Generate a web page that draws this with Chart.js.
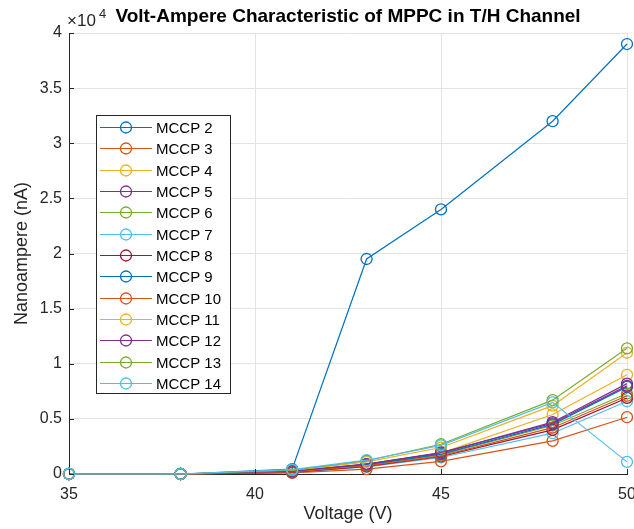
<!DOCTYPE html>
<html lang="en">
<head>
    <meta charset="UTF-8">
    <script src="https://cdn.jsdelivr.net/npm/chart.js"></script>
    <title>Volt-Ampere Characteristic of MPPC</title>
    <style>
        body {
            margin: 0;
            padding: 0;
            background-color: #fff;
        }
        #chart {
            display: block;
        }
    </style>
</head>
<body>
    <canvas id="chart" width="634" height="529"></canvas>

    <script>
        // Voltage points (V)
        const voltages = [35, 38, 41, 43, 45, 48, 50];

        const seriesNames = ['MCCP 2', 'MCCP 3', 'MCCP 4', 'MCCP 5', 'MCCP 6', 'MCCP 7', 'MCCP 8',
            'MCCP 9', 'MCCP 10', 'MCCP 11', 'MCCP 12', 'MCCP 13', 'MCCP 14'];

        // current in nA
        const mccp2 = [0, 0, 450, 19500, 24000, 32000, 39000];
        const mccp3 = [0, 0, 100, 450, 1150, 3000, 5150];
        const mccp4 = [0, 0, 200, 850, 1900, 5400, 9000];
        const mccp5 = [0, 0, 250, 900, 1900, 4700, 8200];
        const mccp6 = [0, 0, 200, 800, 1750, 4400, 7300];
        const mccp7 = [0, 0, 150, 650, 1500, 3700, 6600];
        const mccp8 = [0, 0, 150, 700, 1600, 4000, 6900];
        const mccp9 = [0, 0, 250, 850, 1800, 4500, 7900];
        const mccp10 = [0, 0, 200, 750, 1650, 4200, 7100];
        const mccp11 = [0, 0, 300, 1100, 2400, 6200, 11000];
        const mccp12 = [0, 0, 250, 900, 1950, 4600, 8000];
        const mccp13 = [0, 0, 350, 1200, 2700, 6700, 11400];
        const mccp14 = [0, 0, 400, 1250, 2600, 6500, 1100];

        const allSeries = [mccp2, mccp3, mccp4, mccp5, mccp6, mccp7, mccp8,
            mccp9, mccp10, mccp11, mccp12, mccp13, mccp14];

        // matlab default color order
        const colorOrder = ['#0072BD', '#D95319', '#EDB120', '#7E2F8E', '#77AC30', '#4DBEEE', '#A2142F'];

        const yTicks = [0, 5000, 10000, 15000, 20000, 25000, 30000, 35000, 40000];
        const xTicks = [35, 40, 45, 50];

        const axisColor = '#262626';
        const fontName = '"Liberation Sans", Arial, sans-serif';

        const datasets = allSeries.map((vals, i) => {
            const c = colorOrder[i % colorOrder.length];
            return {
                label: seriesNames[i],
                data: vals.map((v, k) => ({ x: voltages[k], y: v })),
                borderColor: c,
                backgroundColor: 'rgba(0,0,0,0)',
                borderWidth: 1.2,
                pointRadius: 5.5,
                pointHoverRadius: 5.5,
                pointBorderWidth: 1.3,
                pointBorderColor: c,
                pointBackgroundColor: 'rgba(0,0,0,0)',
                tension: 0,
                clip: false,
                order: allSeries.length - i // later lines on top like matlab
            };
        });

        // title, x10^4 label, inward ticks and the legend box
        const extras = {
            id: 'extras',
            afterDraw(chart) {
                const ctx = chart.ctx;
                const area = chart.chartArea;
                const xs = chart.scales.x;
                const ys = chart.scales.y;
                ctx.save();

                // inward tick marks
                ctx.strokeStyle = axisColor;
                ctx.lineWidth = 1;
                ctx.beginPath();
                xTicks.forEach(t => {
                    const px = Math.round(xs.getPixelForValue(t)) + 0.5;
                    ctx.moveTo(px, area.bottom);
                    ctx.lineTo(px, area.bottom - 5);
                });
                yTicks.forEach(t => {
                    const py = Math.round(ys.getPixelForValue(t)) + 0.5;
                    ctx.moveTo(area.left, py);
                    ctx.lineTo(area.left + 5, py);
                });
                ctx.stroke();

                // title
                ctx.fillStyle = '#000';
                ctx.font = 'bold 19px ' + fontName;
                ctx.textAlign = 'center';
                ctx.textBaseline = 'middle';
                ctx.fillText('Volt-Ampere Characteristic of MPPC in T/H Channel', (area.left + area.right) / 2, 17);

                // exponent label
                ctx.fillStyle = axisColor;
                ctx.textAlign = 'left';
                ctx.textBaseline = 'alphabetic';
                ctx.font = '17px ' + fontName;
                ctx.fillText('\u00d710', 67, 26);
                ctx.font = '13px ' + fontName;
                ctx.fillText('4', 99, 18);

                // legend
                const lx = 96, ly = 115, lw = 134, lh = 278;
                ctx.fillStyle = '#fff';
                ctx.fillRect(lx, ly, lw, lh);
                ctx.strokeStyle = axisColor;
                ctx.strokeRect(lx + 0.5, ly + 0.5, lw, lh);
                ctx.font = '15px ' + fontName;
                ctx.textBaseline = 'middle';
                chart.data.datasets.forEach((ds, i) => {
                    const y = Math.round(ly + 12 + i * 21.33) + 0.5;
                    ctx.strokeStyle = ds.borderColor;
                    ctx.lineWidth = 1.2;
                    ctx.beginPath();
                    ctx.moveTo(lx + 4, y);
                    ctx.lineTo(lx + 56, y);
                    ctx.stroke();
                    ctx.lineWidth = 1.3;
                    ctx.beginPath();
                    ctx.arc(lx + 30, y, 5.5, 0, Math.PI * 2);
                    ctx.stroke();
                    ctx.fillStyle = '#000';
                    ctx.fillText(ds.label, lx + 60, y + 1);
                });

                ctx.restore();
            }
        };

        const ctx = document.getElementById('chart').getContext('2d');
        const chart = new Chart(ctx, {
            type: 'line',
            data: { datasets: datasets },
            options: {
                responsive: false,
                animation: false,
                layout: {
                    padding: { top: 33, right: 7, left: 0, bottom: 0 }
                },
                plugins: {
                    legend: { display: false },
                    tooltip: { enabled: false },
                    title: { display: false }
                },
                scales: {
                    x: {
                        type: 'linear',
                        min: 35,
                        max: 50,
                        afterFit: s => {
                            s.height = 55;
                            s.paddingLeft = 0;
                            s.paddingRight = 0;
                        },
                        afterBuildTicks: s => { s.ticks = xTicks.map(v => ({ value: v })); },
                        grid: { color: '#e3e3e3', drawTicks: false },
                        border: { color: axisColor, width: 1 },
                        ticks: {
                            color: axisColor,
                            font: { family: fontName, size: 16 },
                            padding: 11,
                            maxRotation: 0
                        },
                        title: {
                            display: true,
                            text: 'Voltage (V)',
                            color: axisColor,
                            font: { family: fontName, size: 18 },
                            padding: { top: -4 }
                        }
                    },
                    y: {
                        min: 0,
                        max: 40000,
                        afterFit: s => {
                            s.width = 69;
                            s.paddingTop = 0;
                            s.paddingBottom = 0;
                        },
                        afterBuildTicks: s => { s.ticks = yTicks.map(v => ({ value: v })); },
                        grid: { color: '#e3e3e3', drawTicks: false },
                        border: { color: axisColor, width: 1 },
                        ticks: {
                            color: axisColor,
                            font: { family: fontName, size: 16 },
                            padding: 7,
                            callback: v => String(v / 10000)
                        },
                        title: {
                            display: true,
                            text: 'Nanoampere (nA)',
                            color: axisColor,
                            font: { family: fontName, size: 18 },
                            padding: { top: 11 }
                        }
                    }
                }
            },
            plugins: [extras]
        });
    </script>
</body>
</html>
